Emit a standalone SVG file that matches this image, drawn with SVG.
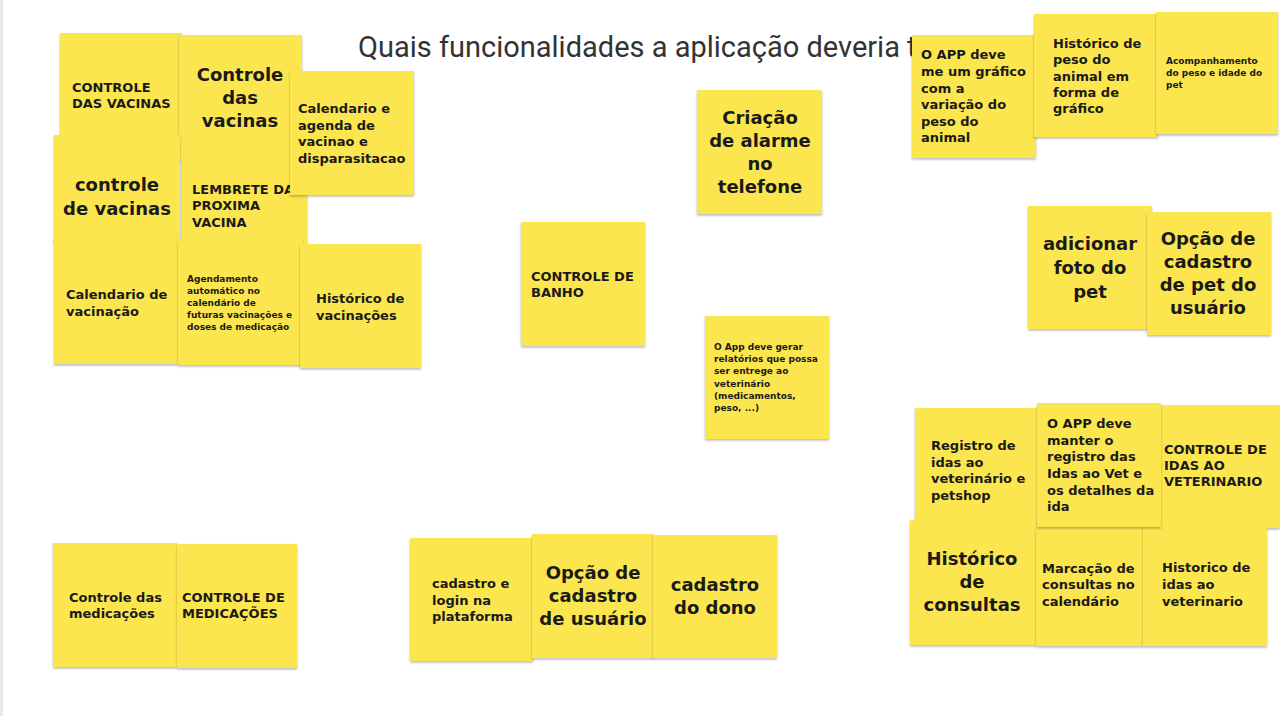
<svg xmlns="http://www.w3.org/2000/svg" width="1280" height="716" viewBox="0 0 1280 716">
<defs>
<filter id="sh" x="-10%" y="-10%" width="120%" height="125%">
<feDropShadow dx="0" dy="1.5" stdDeviation="1.2" flood-color="#000" flood-opacity="0.28"/>
</filter>
<style>
.n{fill:#FCE650;filter:url(#sh)}
.t{font-family:"DejaVu Sans","Liberation Sans",sans-serif;font-weight:bold;fill:#1a1a1a;font-size:13px}
.L{font-size:18px;text-anchor:middle}
.s{font-size:9px}
.title{font-family:Roboto,"Liberation Sans",sans-serif;font-size:29px;fill:#333}
</style>
</defs>
<rect width="1280" height="716" fill="#fff"/>
<rect x="0" y="0" width="3" height="716" fill="#e9e9e9"/>
<text class="title" x="358" y="57">Quais funcionalidades a aplicação deveria t</text>

<g id="n-controle-das-vacinas-caps"><rect class="n" x="60" y="33" width="122" height="110"/>
<text class="t"><tspan x="72" y="92">CONTROLE</tspan><tspan x="72" y="108">DAS VACINAS</tspan></text></g>

<g id="n-controle-das-vacinas"><rect class="n" x="179" y="35" width="123" height="125"/>
<text class="t L"><tspan x="240" y="81">Controle</tspan><tspan x="240" y="104">das</tspan><tspan x="240" y="127">vacinas</tspan></text></g>

<g id="n-lembrete"><rect class="n" x="181" y="160" width="126" height="85"/>
<text class="t"><tspan x="192" y="194">LEMBRETE DA</tspan><tspan x="192" y="210">PROXIMA</tspan><tspan x="192" y="227">VACINA</tspan></text></g>

<g id="n-calendario-agenda"><rect class="n" x="290" y="71" width="124" height="124"/>
<text class="t"><tspan x="298" y="113">Calendario e</tspan><tspan x="298" y="130">agenda de</tspan><tspan x="298" y="146">vacinao e</tspan><tspan x="298" y="163">disparasitacao</tspan></text></g>

<g id="n-controle-de-vacinas"><rect class="n" x="54" y="135" width="126" height="108"/>
<text class="t L"><tspan x="117" y="191">controle</tspan><tspan x="117" y="215">de vacinas</tspan></text></g>

<g id="n-calendario-vacinacao"><rect class="n" x="54" y="238" width="124" height="126"/>
<text class="t"><tspan x="66" y="299">Calendario de</tspan><tspan x="66" y="316">vacinação</tspan></text></g>

<g id="n-agendamento"><rect class="n" x="178" y="240" width="125" height="125"/>
<text class="t s"><tspan x="187" y="282">Agendamento</tspan><tspan x="187" y="294">automático no</tspan><tspan x="187" y="306">calendário de</tspan><tspan x="187" y="318">futuras vacinações e</tspan><tspan x="187" y="330">doses de medicação</tspan></text></g>

<g id="n-historico-vacinacoes"><rect class="n" x="300" y="244" width="121" height="124"/>
<text class="t"><tspan x="316" y="303">Histórico de</tspan><tspan x="316" y="320">vacinações</tspan></text></g>

<g id="n-alarme"><rect class="n" x="697" y="90" width="125" height="124"/>
<text class="t L"><tspan x="760" y="124">Criação</tspan><tspan x="760" y="147">de alarme</tspan><tspan x="760" y="170">no</tspan><tspan x="760" y="193">telefone</tspan></text></g>

<g id="n-banho"><rect class="n" x="521" y="222" width="124" height="124"/>
<text class="t"><tspan x="531" y="281">CONTROLE DE</tspan><tspan x="531" y="297">BANHO</tspan></text></g>

<g id="n-relatorios"><rect class="n" x="705" y="316" width="124" height="123"/>
<text class="t s"><tspan x="714" y="350">O App deve gerar</tspan><tspan x="714" y="362">relatórios que possa</tspan><tspan x="714" y="374">ser entrege ao</tspan><tspan x="714" y="387">veterinário</tspan><tspan x="714" y="399">(medicamentos,</tspan><tspan x="714" y="411">peso, ...)</tspan></text></g>

<g id="n-app-grafico"><rect class="n" x="912" y="35" width="124" height="123"/>
<text class="t"><tspan x="921" y="59">O APP deve</tspan><tspan x="921" y="76">me um gráfico</tspan><tspan x="921" y="93">com a</tspan><tspan x="921" y="109">variação do</tspan><tspan x="921" y="126">peso do</tspan><tspan x="921" y="142">animal</tspan></text></g>

<g id="n-historico-peso"><rect class="n" x="1034" y="14" width="124" height="123"/>
<text class="t"><tspan x="1053" y="48">Histórico de</tspan><tspan x="1053" y="64">peso do</tspan><tspan x="1053" y="81">animal em</tspan><tspan x="1053" y="97">forma de</tspan><tspan x="1053" y="113">gráfico</tspan></text></g>

<g id="n-acompanhamento"><rect class="n" x="1156" y="12" width="122" height="122"/>
<text class="t s"><tspan x="1166" y="64">Acompanhamento</tspan><tspan x="1166" y="76">do peso e idade do</tspan><tspan x="1166" y="88">pet</tspan></text></g>

<g id="n-foto-pet"><rect class="n" x="1028" y="206" width="124" height="123"/>
<text class="t L"><tspan x="1090" y="250">adicionar</tspan><tspan x="1090" y="274">foto do</tspan><tspan x="1090" y="298">pet</tspan></text></g>

<g id="n-cadastro-pet"><rect class="n" x="1147" y="212" width="124" height="123"/>
<text class="t L"><tspan x="1208" y="245">Opção de</tspan><tspan x="1208" y="268">cadastro</tspan><tspan x="1208" y="291">de pet do</tspan><tspan x="1208" y="314">usuário</tspan></text></g>

<g id="n-registro-idas"><rect class="n" x="915" y="408" width="122" height="120"/>
<text class="t"><tspan x="931" y="450">Registro de</tspan><tspan x="931" y="467">idas ao</tspan><tspan x="931" y="483">veterinário e</tspan><tspan x="931" y="500">petshop</tspan></text></g>

<g id="n-controle-idas"><rect class="n" x="1160" y="405" width="120" height="123"/>
<text class="t"><tspan x="1164" y="454">CONTROLE DE</tspan><tspan x="1164" y="470">IDAS AO</tspan><tspan x="1164" y="486">VETERINARIO</tspan></text></g>

<g id="n-historico-consultas"><rect class="n" x="910" y="520" width="126" height="125"/>
<text class="t L"><tspan x="972" y="565">Histórico</tspan><tspan x="972" y="588">de</tspan><tspan x="972" y="611">consultas</tspan></text></g>

<g id="n-marcacao"><rect class="n" x="1036" y="527" width="107" height="119"/>
<text class="t"><tspan x="1042" y="573">Marcação de</tspan><tspan x="1042" y="589">consultas no</tspan><tspan x="1042" y="606">calendário</tspan></text></g>

<g id="n-historico-idas"><rect class="n" x="1143" y="527" width="124" height="119"/>
<text class="t"><tspan x="1162" y="572">Historico de</tspan><tspan x="1162" y="589">idas ao</tspan><tspan x="1162" y="606">veterinario</tspan></text></g>

<g id="n-app-registro-idas"><rect class="n" x="1037" y="403" width="124" height="124"/>
<text class="t"><tspan x="1047" y="428">O APP deve</tspan><tspan x="1047" y="445">manter o</tspan><tspan x="1047" y="461">registro das</tspan><tspan x="1047" y="478">Idas ao Vet e</tspan><tspan x="1047" y="495">os detalhes da</tspan><tspan x="1047" y="511">ida</tspan></text></g>

<g id="n-controle-medicacoes"><rect class="n" x="53" y="543" width="124" height="124"/>
<text class="t"><tspan x="69" y="602">Controle das</tspan><tspan x="69" y="618">medicações</tspan></text></g>

<g id="n-controle-medicacoes-caps"><rect class="n" x="177" y="544" width="120" height="124"/>
<text class="t"><tspan x="182" y="602">CONTROLE DE</tspan><tspan x="182" y="618">MEDICAÇÕES</tspan></text></g>

<g id="n-login"><rect class="n" x="410" y="538" width="123" height="123"/>
<text class="t"><tspan x="432" y="588">cadastro e</tspan><tspan x="432" y="605">login na</tspan><tspan x="432" y="621">plataforma</tspan></text></g>

<g id="n-cadastro-usuario"><rect class="n" x="532" y="534" width="122" height="124"/>
<text class="t L"><tspan x="593" y="579">Opção de</tspan><tspan x="593" y="602">cadastro</tspan><tspan x="593" y="625">de usuário</tspan></text></g>

<g id="n-cadastro-dono"><rect class="n" x="653" y="535" width="124" height="123"/>
<text class="t L"><tspan x="715" y="591">cadastro</tspan><tspan x="715" y="614">do dono</tspan></text></g>

<g id="connectors"/>
</svg>
